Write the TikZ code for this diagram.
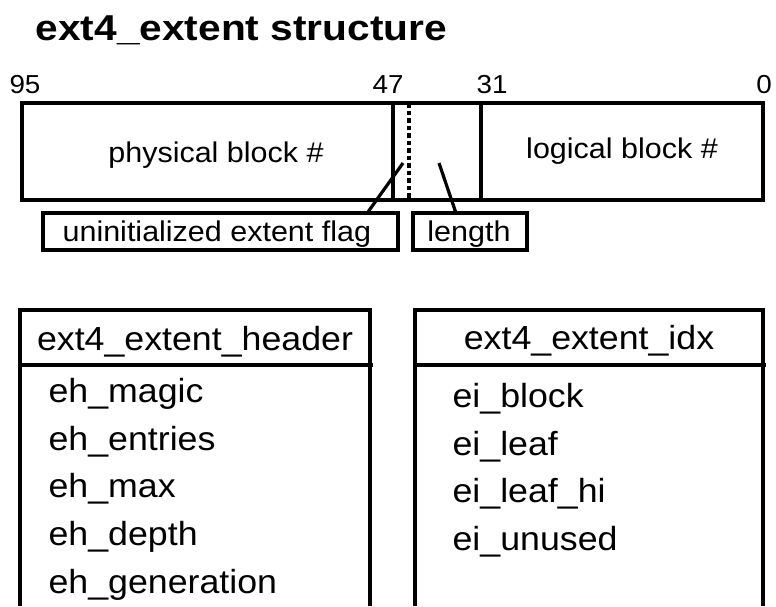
\documentclass[tikz,border=0pt]{standalone}
\usepackage{fontspec}
\setmainfont{Liberation Sans}[FakeStretch=1.07]
\newfontfamily\titlefont{Liberation Sans}[FakeStretch=1.13]
\begin{document}
\begin{tikzpicture}[x=1pt,y=-1pt,line width=3.2pt,
  cell/.style={draw,inner sep=0pt,line width=3.2pt},
  numtxt/.style={inner sep=0pt,anchor=base,font=\fontsize{26}{30}\selectfont},
  boxtxt/.style={inner sep=0pt,font=\fontsize{28.5}{32}\selectfont},
  headtxt/.style={inner sep=0pt,anchor=base,font=\fontsize{33.4}{38}\selectfont},
  fldtxt/.style={inner sep=0pt,anchor=base west,font=\fontsize{33.4}{38}\selectfont},
  conn/.style={line width=3.2pt}]
\useasboundingbox (0,0) rectangle (776,606);
% title
\node[inner sep=0pt,anchor=base west,font=\titlefont\bfseries\fontsize{36}{40}\selectfont] (title) at (34,40) {ext4\_extent structure};
% bit numbers
\node[numtxt] (b95) at (25,93) {95};
\node[numtxt] (b47) at (388,93) {47};
\node[numtxt] (b31) at (492,93) {31};
\node[numtxt] (b0) at (764,93) {0};
% extent fields
\node[cell,minimum width=371pt,minimum height=97pt] (phys) at (207.5,151.5) {};
\node[cell,minimum width=88pt,minimum height=97pt] (len) at (437,151.5) {};
\node[cell,minimum width=282pt,minimum height=97pt] (logi) at (622,151.5) {};
\node[boxtxt,anchor=base] (physt) at (216,162) {physical block \#};
\node[boxtxt,anchor=base] (logit) at (622,158) {logical block \#};
\coordinate (dtop) at (409,103);
\coordinate (dbot) at (409,200);
\draw[dash pattern=on 4.5pt off 3pt] (dtop) -- (dbot);
% labels
\node[cell,minimum width=355pt,minimum height=37pt] (flag) at (220.5,231.5) {};
\node[boxtxt,anchor=base west] (flagt) at (61,241) {uninitialized extent flag};
\node[cell,minimum width=114pt,minimum height=37pt] (length) at (470,231.5) {};
\node[boxtxt,anchor=base] (lengtht) at (469,241) {length};
\coordinate (flagpt) at (403,163);
\coordinate (lenpt) at (439,163);
\draw[conn] (flag.north west) ++(327,0) -- (flagpt);
\draw[conn] (length.north west) ++(44,0) -- (lenpt);
% ext4_extent_header
\coordinate (h1) at (20,606);
\coordinate (h2) at (20,310);
\coordinate (h3) at (370,310);
\coordinate (h4) at (370,606);
\draw (h1) -- (h2) -- (h3) -- (h4);
\draw (18.5,365) -- (373,365);
\node[headtxt] (hdrt) at (195,350) {ext4\_extent\_header};
\node[fldtxt] (f1) at (47,402) {eh\_magic};
\node[fldtxt] (f2) at (47,450) {eh\_entries};
\node[fldtxt] (f3) at (47,497) {eh\_max};
\node[fldtxt] (f4) at (47,545) {eh\_depth};
\node[fldtxt] (f5) at (47,593) {eh\_generation};
% ext4_extent_idx
\coordinate (i1) at (415,606);
\coordinate (i2) at (415,310);
\coordinate (i3) at (763,310);
\coordinate (i4) at (763,606);
\draw (i1) -- (i2) -- (i3) -- (i4);
\draw (413.5,365) -- (766,365);
\node[headtxt] (idxt) at (589,349) {ext4\_extent\_idx};
\node[fldtxt] (g1) at (451,407) {ei\_block};
\node[fldtxt] (g2) at (451,455) {ei\_leaf};
\node[fldtxt] (g3) at (451,502) {ei\_leaf\_hi};
\node[fldtxt] (g4) at (451,550) {ei\_unused};
\end{tikzpicture}
\end{document}
